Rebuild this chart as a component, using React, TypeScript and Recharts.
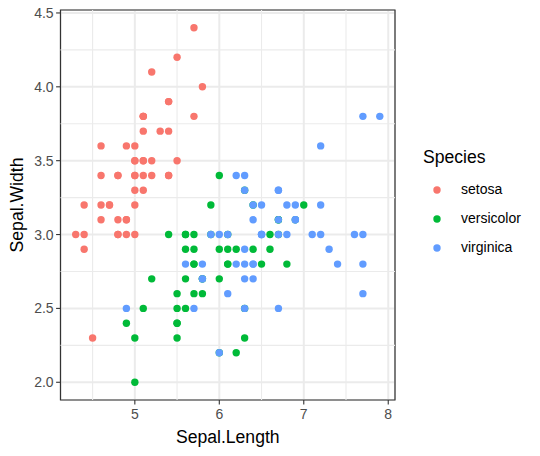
import React from "react";
import {
  ScatterChart,
  Scatter,
  XAxis,
  YAxis,
  CartesianGrid,
  ReferenceLine,
  ReferenceArea,
  Legend,
} from "recharts";

// Sepal measurements by species (R's iris)
const setosaLength = [
  5.1, 4.9, 4.7, 4.6, 5.0, 5.4, 4.6, 5.0, 4.4, 4.9, 5.4, 4.8, 4.8, 4.3, 5.8, 5.7, 5.4,
  5.1, 5.7, 5.1, 5.4, 5.1, 4.6, 5.1, 4.8, 5.0, 5.0, 5.2, 5.2, 4.7, 4.8, 5.4, 5.2, 5.5,
  4.9, 5.0, 5.5, 4.9, 4.4, 5.1, 5.0, 4.5, 4.4, 5.0, 5.1, 4.8, 5.1, 4.6, 5.3, 5.0,
];
const setosaWidth = [
  3.5, 3.0, 3.2, 3.1, 3.6, 3.9, 3.4, 3.4, 2.9, 3.1, 3.7, 3.4, 3.0, 3.0, 4.0, 4.4, 3.9,
  3.5, 3.8, 3.8, 3.4, 3.7, 3.6, 3.3, 3.4, 3.0, 3.4, 3.5, 3.4, 3.2, 3.1, 3.4, 4.1, 4.2,
  3.1, 3.2, 3.5, 3.6, 3.0, 3.4, 3.5, 2.3, 3.2, 3.5, 3.8, 3.0, 3.8, 3.2, 3.7, 3.3,
];
const versicolorLength = [
  7.0, 6.4, 6.9, 5.5, 6.5, 5.7, 6.3, 4.9, 6.6, 5.2, 5.0, 5.9, 6.0, 6.1, 5.6, 6.7, 5.6,
  5.8, 6.2, 5.6, 5.9, 6.1, 6.3, 6.1, 6.4, 6.6, 6.8, 6.7, 6.0, 5.7, 5.5, 5.5, 5.8, 6.0,
  5.4, 6.0, 6.7, 6.3, 5.6, 5.5, 5.5, 6.1, 5.8, 5.0, 5.6, 5.7, 5.7, 6.2, 5.1, 5.7,
];
const versicolorWidth = [
  3.2, 3.2, 3.1, 2.3, 2.8, 2.8, 3.3, 2.4, 2.9, 2.7, 2.0, 3.0, 2.2, 2.9, 2.9, 3.1, 3.0,
  2.7, 2.2, 2.5, 3.2, 2.8, 2.5, 2.8, 2.9, 3.0, 2.8, 3.0, 2.9, 2.6, 2.4, 2.4, 2.7, 2.7,
  3.0, 3.4, 3.1, 2.3, 3.0, 2.5, 2.6, 3.0, 2.6, 2.3, 2.7, 3.0, 2.9, 2.9, 2.5, 2.8,
];
const virginicaLength = [
  6.3, 5.8, 7.1, 6.3, 6.5, 7.6, 4.9, 7.3, 6.7, 7.2, 6.5, 6.4, 6.8, 5.7, 5.8, 6.4, 6.5,
  7.7, 7.7, 6.0, 6.9, 5.6, 7.7, 6.3, 6.7, 7.2, 6.2, 6.1, 6.4, 7.2, 7.4, 7.9, 6.4, 6.3,
  6.1, 7.7, 6.3, 6.4, 6.0, 6.9, 6.7, 6.9, 5.8, 6.8, 6.7, 6.7, 6.3, 6.5, 6.2, 5.9,
];
const virginicaWidth = [
  3.3, 2.7, 3.0, 2.9, 3.0, 3.0, 2.5, 2.9, 2.5, 3.6, 3.2, 2.7, 3.0, 2.5, 2.8, 3.2, 3.0,
  3.8, 2.6, 2.2, 3.2, 2.8, 2.8, 2.7, 3.3, 3.2, 2.8, 3.0, 2.8, 3.0, 2.8, 3.8, 2.8, 2.8,
  2.6, 3.0, 3.4, 3.1, 3.0, 3.1, 3.1, 3.1, 2.7, 3.2, 3.3, 3.0, 2.5, 3.0, 3.4, 3.0,
];

const xTicks = [5, 6, 7, 8];
const yTicks = [2.0, 2.5, 3.0, 3.5, 4.0, 4.5];
const xMinor = [4.5, 5.5, 6.5, 7.5];
const yMinor = [2.25, 2.75, 3.25, 3.75, 4.25];
const X_DOMAIN: [number, number] = [4.12, 8.08];
const Y_DOMAIN: [number, number] = [1.88, 4.52];

const FONT = '"Liberation Sans", Arial, Helvetica, sans-serif';

const species = [
  { name: "setosa", color: "#F8766D", xs: setosaLength, ys: setosaWidth },
  { name: "versicolor", color: "#00BA38", xs: versicolorLength, ys: versicolorWidth },
  { name: "virginica", color: "#619CFF", xs: virginicaLength, ys: virginicaWidth },
];

const toPoints = (xs: number[], ys: number[]) => xs.map((x, i) => ({ x, y: ys[i] }));

function dot(color: string) {
  return (p: any) => <circle cx={p.cx} cy={p.cy} r={3.7} fill={color} />;
}

function renderLegend() {
  return (
    <div style={{ position: "relative", width: 130, height: 130, fontFamily: FONT }}>
      <div style={{ position: "absolute", left: 18, top: 7, fontSize: 17.6, color: "#000" }}>
        Species
      </div>
      {species.map((s, i) => (
        <div key={s.name}>
          <svg
            width={10}
            height={10}
            style={{ position: "absolute", left: 27, top: 45 + i * 29 }}
          >
            <circle cx={5} cy={5} r={3.7} fill={s.color} />
          </svg>
          <div
            style={{
              position: "absolute",
              left: 56,
              top: 41 + i * 29,
              fontSize: 14,
              lineHeight: "16px",
              color: "#000",
            }}
          >
            {s.name}
          </div>
        </div>
      ))}
    </div>
  );
}

export default function App() {
  const tick = { fill: "#4D4D4D", fontSize: 14, fontFamily: FONT };
  return (
    <div style={{ position: "absolute", left: 0, top: 0, background: "#fff" }}>
      <ScatterChart
        width={540}
        height={456}
        margin={{ top: 10, right: 145, bottom: 0, left: 0 }}
        style={{ fontFamily: FONT }}
      >
        <CartesianGrid stroke="#EBEBEB" strokeWidth={2} />
        {xMinor.map((v) => (
          <ReferenceLine key={"vx" + v} x={v} stroke="#EBEBEB" strokeWidth={1.1} />
        ))}
        {yMinor.map((v) => (
          <ReferenceLine key={"hy" + v} y={v} stroke="#EBEBEB" strokeWidth={1.1} />
        ))}
        <XAxis
          type="number"
          dataKey="x"
          domain={X_DOMAIN}
          ticks={xTicks}
          allowDataOverflow
          height={56}
          tickSize={4.4}
          tickMargin={5}
          axisLine={false}
          tickLine={{ stroke: "#333333", strokeWidth: 1.1 }}
          tick={tick}
          label={{
            value: "Sepal.Length",
            position: "insideBottom",
            offset: 13,
            style: { fill: "#000", fontSize: 17.6, fontFamily: FONT },
          }}
        />
        <YAxis
          type="number"
          dataKey="y"
          domain={Y_DOMAIN}
          ticks={yTicks}
          allowDataOverflow
          width={60.5}
          tickSize={4.4}
          tickMargin={2.5}
          axisLine={false}
          tickLine={{ stroke: "#333333", strokeWidth: 1.1 }}
          tick={tick}
          tickFormatter={(v: number) => v.toFixed(1)}
          label={{
            value: "Sepal.Width",
            angle: -90,
            position: "insideLeft",
            offset: 17,
            style: { fill: "#000", fontSize: 17.6, fontFamily: FONT, textAnchor: "middle" },
          }}
        />
        <ReferenceArea
          x1={X_DOMAIN[0]}
          x2={X_DOMAIN[1]}
          y1={Y_DOMAIN[0]}
          y2={Y_DOMAIN[1]}
          fill="none"
          fillOpacity={0}
          stroke="#333333"
          strokeWidth={1.2}
        />
        {species.map((s) => (
          <Scatter
            key={s.name}
            name={s.name}
            data={toPoints(s.xs, s.ys)}
            fill={s.color}
            shape={dot(s.color)}
            isAnimationActive={false}
          />
        ))}
        <Legend
          layout="vertical"
          align="center"
          verticalAlign="middle"
          wrapperStyle={{ left: 405, top: 140, width: 130, height: 130 }}
          content={renderLegend}
        />
      </ScatterChart>
    </div>
  );
}
